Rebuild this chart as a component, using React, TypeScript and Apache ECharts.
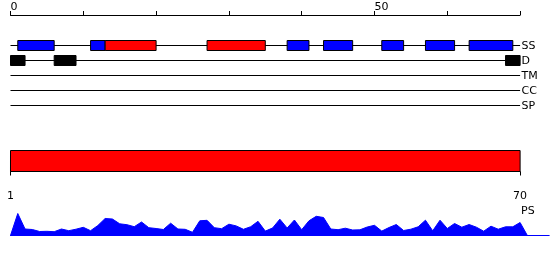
import React, { useEffect, useRef } from "react";
import * as echarts from "echarts";

// ---- data ----
const TRACKS = ["SS", "D", "TM", "CC", "SP"];
const SEQ_LENGTH = 70;
const TOP_LABELED_TICKS = [0, 50];
const BOTTOM_TICKS = [1, 70];
// secondary structure: helices (blue) and strands (red), [start, end]
const SS_HELIX = [[1, 6], [11, 13], [38, 41], [43, 47], [51, 54], [57, 61], [63, 69]];
const SS_STRAND = [[13, 20], [27, 35]];
// disorder regions, [start, end]
const DISORDER = [[0, 2], [6, 9], [68, 70]];
// PS domain bar, [start, end]
const PS_DOMAIN = [[1, 70]];
// PS profile (position 0..71)
const PS_VALUES = [
  0, 22, 6.5, 6, 4, 4.2, 3.8, 6.5, 4.8, 6.3, 8.2,
  4.8, 10, 17, 16.5, 11.7, 10.8, 8.8, 13.5, 7.8, 7,
  6, 12.3, 6.5, 6.2, 3.2, 14.7, 15.2, 7.8, 6.8, 11.3,
  9.6, 6.2, 8.8, 14.2, 4.4, 7.5, 16.3, 7.5, 15.5, 5.8,
  14.7, 19.2, 18, 6.5, 5.8, 7.3, 5.5, 5.7, 8.5, 10.2,
  4.4, 8, 11, 5, 6.3, 8.7, 15.3, 4.7, 15.3, 7,
  12, 8.3, 11, 8.3, 4.3, 9.3, 6.3, 8.7, 8.7, 13,
  0,
];

const FONT = "DejaVu Sans";
const BLUE = "#0000ff";
const RED = "#ff0000";

export default function App() {
  const ref = useRef<HTMLDivElement>(null);
  useEffect(() => {
    if (!ref.current) return;
    const chart = echarts.init(ref.current, undefined, { renderer: "svg" });

    const featureData: any[] = [];
    SS_HELIX.forEach(([s, e]) => featureData.push({ value: [s, e, 0], color: BLUE }));
    SS_STRAND.forEach(([s, e]) => featureData.push({ value: [s, e, 0], color: RED }));
    DISORDER.forEach(([s, e]) => featureData.push({ value: [s, e, 1], color: "#000000" }));

    const option: any = {
      animation: false,
      grid: [
        { left: 10.5, right: 29.9, top: 38, height: 75 },
        { left: 10.5, right: 29.9, top: 150.5, height: 21 },
        { left: 10.5, right: 0.8, top: 213.5, height: 22 },
      ],
      xAxis: [
        {
          gridIndex: 0,
          type: "value",
          min: 0,
          max: SEQ_LENGTH,
          interval: 10,
          position: "top",
          offset: 23,
          axisLine: { show: true, lineStyle: { color: "#000", width: 1 } },
          axisTick: { show: true, length: 4, lineStyle: { color: "#000" } },
          axisLabel: {
            show: true,
            align: "left",
            margin: 3,
            fontFamily: FONT,
            fontSize: 11,
            color: "#000",
            formatter: (v: number) => (TOP_LABELED_TICKS.includes(v) ? String(v) : ""),
          },
          splitLine: { show: false },
        },
        {
          gridIndex: 1,
          type: "value",
          min: BOTTOM_TICKS[0],
          max: BOTTOM_TICKS[1],
          position: "bottom",
          offset: 11,
          axisLine: { show: true, lineStyle: { color: "#000", width: 1 } },
          axisTick: { show: true, length: 4, customValues: BOTTOM_TICKS, lineStyle: { color: "#000" } },
          axisLabel: {
            show: true,
            margin: 7,
            fontFamily: FONT,
            fontSize: 11,
            color: "#000",
            customValues: BOTTOM_TICKS,
          },
          splitLine: { show: false },
        },
        {
          gridIndex: 2,
          type: "value",
          min: 0,
          max: 74,
          axisLine: { show: true, lineStyle: { color: BLUE, width: 1 } },
          axisTick: { show: false },
          axisLabel: { show: false },
          splitLine: { show: false },
        },
      ],
      yAxis: [
        {
          gridIndex: 0,
          type: "category",
          inverse: true,
          data: TRACKS,
          position: "right",
          axisLine: { show: false },
          axisTick: { show: false },
          axisLabel: {
            margin: 1.5,
            fontFamily: FONT,
            fontSize: 11,
            color: "#000",
          },
          splitLine: { show: false },
        },
        {
          gridIndex: 1,
          type: "value",
          min: 0,
          max: 1,
          show: false,
        },
        {
          gridIndex: 2,
          type: "value",
          min: 0,
          max: 22,
          show: false,
        },
      ],
      graphic: [
        {
          type: "text",
          left: 521,
          top: 205,
          style: { text: "PS", font: `11px '${FONT}'`, fill: "#000" },
        },
      ],
      series: [
        {
          type: "custom",
          xAxisIndex: 0,
          yAxisIndex: 0,
          data: TRACKS.map((_, i) => [0, SEQ_LENGTH, i]),
          renderItem: (params: any, api: any) => {
            const a = api.coord([api.value(0), api.value(2)]);
            const b = api.coord([api.value(1), api.value(2)]);
            return {
              type: "line",
              shape: { x1: a[0], y1: a[1], x2: b[0], y2: b[1] },
              style: { stroke: "#000", lineWidth: 1 },
            };
          },
          z: 1,
        },
        {
          type: "custom",
          xAxisIndex: 0,
          yAxisIndex: 0,
          data: featureData,
          renderItem: (params: any, api: any) => {
            const a = api.coord([api.value(0), api.value(2)]);
            const b = api.coord([api.value(1), api.value(2)]);
            const item = featureData[params.dataIndex];
            return {
              type: "rect",
              shape: { x: a[0], y: a[1] - 5, width: b[0] - a[0], height: 10 },
              style: { fill: item.color, stroke: "#000", lineWidth: 1 },
            };
          },
          z: 2,
        },
        {
          type: "custom",
          xAxisIndex: 1,
          yAxisIndex: 1,
          data: PS_DOMAIN,
          renderItem: (params: any, api: any) => {
            const a = api.coord([api.value(0), 1]);
            const b = api.coord([api.value(1), 0]);
            return {
              type: "rect",
              shape: { x: a[0], y: a[1], width: b[0] - a[0], height: b[1] - a[1] },
              style: { fill: RED, stroke: "#000", lineWidth: 1 },
            };
          },
        },
        {
          type: "line",
          xAxisIndex: 2,
          yAxisIndex: 2,
          data: PS_VALUES.map((v, i) => [i, v]),
          symbol: "none",
          lineStyle: { color: BLUE, width: 1 },
          areaStyle: { color: BLUE, opacity: 1 },
        },
      ],
    };
    chart.setOption(option);
    return () => chart.dispose();
  }, []);
  return (
    <div
      ref={ref}
      style={{ position: "fixed", left: 0, top: 0, width: 550, height: 260 }}
    />
  );
}
